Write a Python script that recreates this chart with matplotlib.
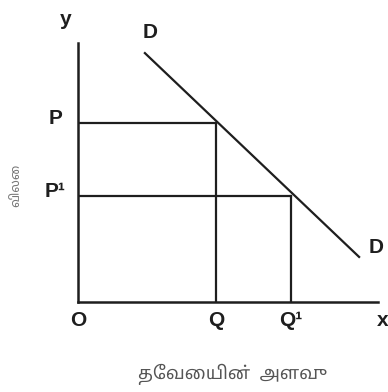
import matplotlib.pyplot as plt

# demand curve end points (quantity, price)
demand_q = [2.23, 9.37]
demand_p = [9.61, 1.74]

# price levels and matching quantities
prices = [6.92, 4.1]
quantities = [4.6, 7.1]
price_labels = ['P', 'P¹']
qty_labels = ['Q', 'Q¹']

ink = '#1e1e1e'
plt.rcParams['font.family'] = ['Liberation Sans', 'DejaVu Sans']

fig = plt.figure(figsize=(3.88, 3.92), dpi=100)
ax = fig.add_axes([78 / 388, 90 / 392, 300 / 388, 259 / 392])
ax.set_xlim(0, 10)
ax.set_ylim(0, 10)
for s in ['top', 'right']:
    ax.spines[s].set_visible(False)
for s in ['left', 'bottom']:
    ax.spines[s].set_linewidth(1.8)
    ax.spines[s].set_color(ink)
ax.set_xticks([])
ax.set_yticks([])

ax.plot(demand_q, demand_p, color=ink, lw=1.6)
for p, q in zip(prices, quantities):
    ax.plot([0, q], [p, p], color=ink, lw=1.6)
    ax.plot([q, q], [0, p], color=ink, lw=1.6)

lab = dict(fontsize=15, fontweight='bold', color=ink, ha='center', va='center')
for p, t in zip(prices, price_labels):
    ax.text(-0.75, p + 0.15, t, **lab)
for q, t in zip(quantities, qty_labels):
    ax.text(q, -0.7, t, **lab)
ax.text(0, -0.7, 'O', **lab)
ax.text(10.15, -0.7, 'x', **lab)
ax.text(-0.4, 10.9, 'y', **lab)
ax.text(2.4, 10.4, 'D', **lab)
ax.text(9.95, 2.1, 'D', **lab)

tamil = ['Noto Sans Tamil', 'Latha', 'Lohit Tamil', 'DejaVu Sans']
fig.text(233 / 388, 1 - 374 / 392, 'தேவையின்  அளவு', fontsize=13, color='#555555',
         ha='center', va='center', family=tamil)
fig.text(16 / 388, 1 - 185 / 392, 'விலை', fontsize=9, color='#777777',
         ha='center', va='center', rotation=90, family=tamil)

fig.savefig('out.png', dpi=100)
